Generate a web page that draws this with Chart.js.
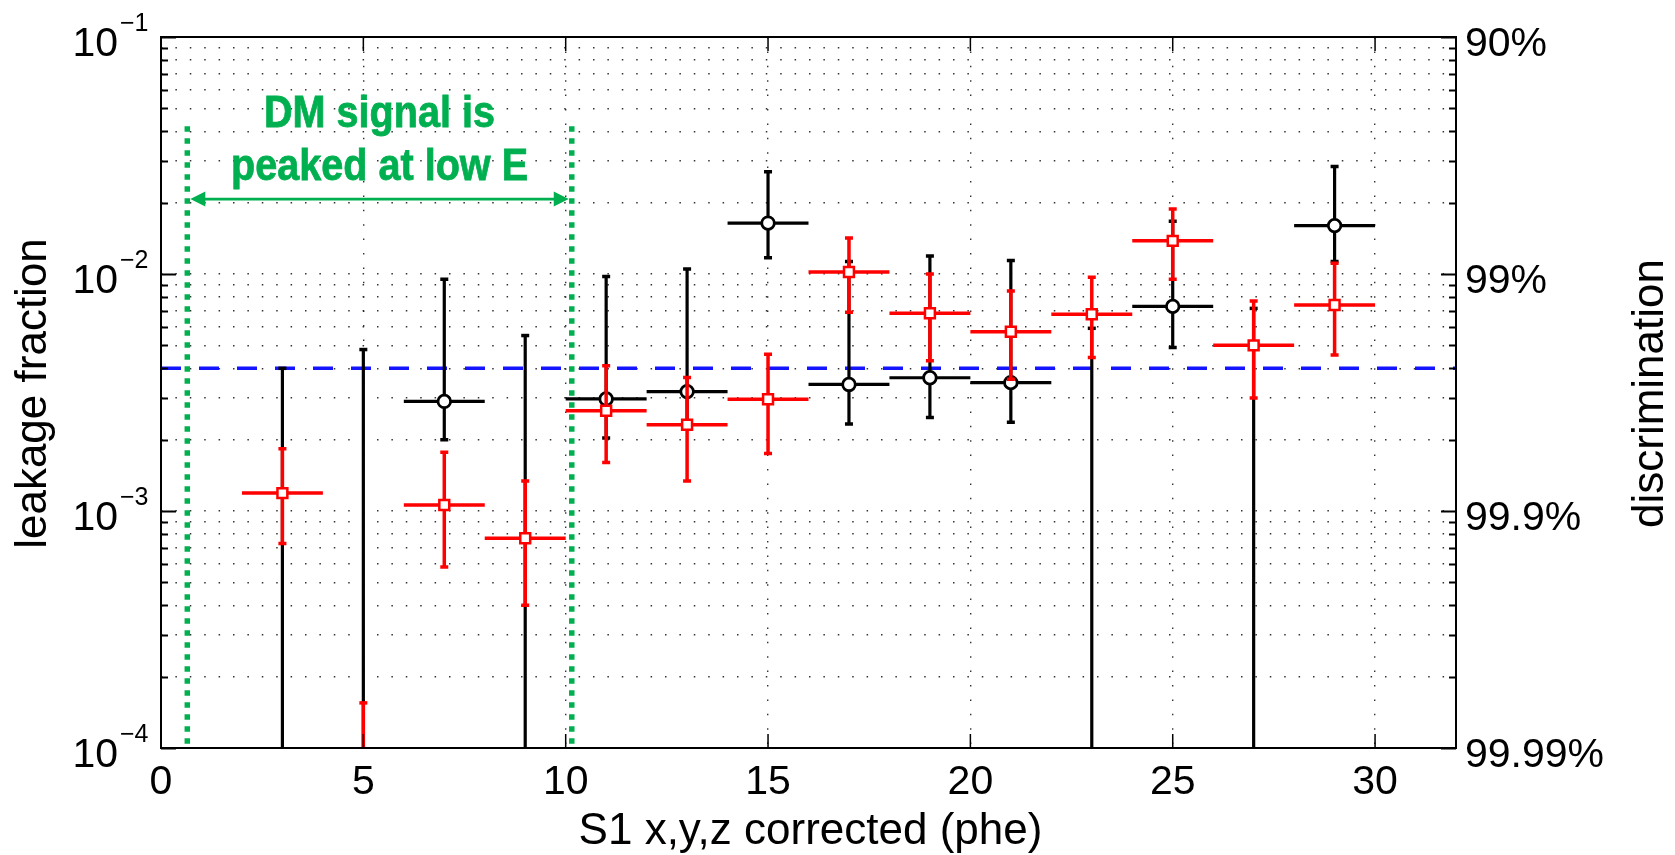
<!DOCTYPE html>
<html lang="en">
<head>
  <meta charset="UTF-8">
  <title>leakage fraction vs S1</title>
  <style>
    body { margin: 0; padding: 0; background: #fff; }
    .wrap { width: 1675px; height: 855px; position: relative; }
  </style>
</head>
<body>
  <div class="wrap"><canvas id="chart"></canvas></div>

  <script src="https://cdn.jsdelivr.net/npm/chart.js"></script>
  <script>
    // bin centres (phe) and half-width of every bin
    const binCenters = [3, 5, 7, 9, 11, 13, 15, 17, 19, 21, 23, 25, 27, 29];
    const binHalfWidth = 1;

    // black circles: value (null = no leakage seen), upper and lower bar ends (0 = off scale)
    const blackVal = [null, null, 2.9e-3, null, 2.97e-3, 3.19e-3, 1.64e-2, 3.42e-3, 3.65e-3, 3.48e-3, null, 7.3e-3, null, 1.6e-2];
    const blackHi  = [4.0e-3, 4.8e-3, 9.5e-3, 5.5e-3, 9.75e-3, 1.05e-2, 2.7e-2, 1.13e-2, 1.19e-2, 1.14e-2, 5.9e-3, 1.67e-2, 7.16e-3, 2.84e-2];
    const blackLo  = [0, 0, 2.0e-3, 0, 2.03e-3, 2.3e-3, 1.17e-2, 2.33e-3, 2.48e-3, 2.37e-3, 0, 4.9e-3, 0, 1.13e-2];

    // red squares
    const redVal = [1.19e-3, null, 1.06e-3, 7.67e-4, 2.65e-3, 2.31e-3, 2.96e-3, 1.02e-2, 6.83e-3, 5.71e-3, 6.76e-3, 1.38e-2, 5.0e-3, 7.4e-3];
    const redHi  = [1.83e-3, 1.55e-4, 1.77e-3, 1.34e-3, 4.1e-3, 3.66e-3, 4.58e-3, 1.42e-2, 1.0e-2, 8.48e-3, 9.7e-3, 1.88e-2, 7.7e-3, 1.11e-2];
    const redLo  = [7.3e-4, 0, 5.8e-4, 4.0e-4, 1.6e-3, 1.34e-3, 1.75e-3, 6.9e-3, 4.3e-3, 3.6e-3, 4.44e-3, 9.5e-3, 3.0e-3, 4.55e-3];

    // dashed reference level
    const cutLevel = 4e-3;

    // DM region annotation
    const dmRange = [0.65, 10.15];
    const dmTop = 0.042;
    const dmArrowY = 0.0207;
    const dmText = ['DM signal is', 'peaked at low E'];
    const dmTextY = [0.0419, 0.0249];

    // axes
    const xMin = 0, xMax = 32;
    const xTicks = [0, 5, 10, 15, 20, 25, 30];
    const yMajor = [1e-4, 1e-3, 1e-2, 1e-1];
    const discrimLabels = ['99.99%', '99.9%', '99%', '90%'];
    const xTitle = 'S1 x,y,z corrected (phe)';
    const yTitle = 'leakage fraction';
    const y2Title = 'discrimination';

    const FONT = '"Liberation Sans", Arial, Helvetica, sans-serif';
    const dotColor = 'rgba(30,30,30,0.9)';

    // minor ticks 2..9 inside each decade
    const yTicks = [];
    yMajor.forEach((m, i) => {
      yTicks.push(m);
      if (i < yMajor.length - 1) for (let k = 2; k <= 9; k++) yTicks.push(k * m);
    });

    const pts = (vals) => binCenters.map((c, i) => ({ x: c, y: vals[i] })).filter(p => p.y != null);

    // error bars drawn just before the markers of each dataset
    const errorBars = {
      id: 'errorBars',
      beforeDatasetDraw(chart, args) {
        const ds = chart.data.datasets[args.index];
        if (!ds.err) return;
        const { ctx, chartArea: a, scales: { x, y } } = chart;
        const e = ds.err;
        ctx.save();
        ctx.beginPath();
        ctx.rect(a.left, a.top, a.right - a.left, a.bottom - a.top);
        ctx.clip();
        ctx.strokeStyle = ds.borderColor;
        ctx.lineCap = 'butt';
        binCenters.forEach((c, i) => {
          const px = x.getPixelForValue(c);
          const top = y.getPixelForValue(e.hi[i]);
          const bot = e.lo[i] > 0 ? y.getPixelForValue(e.lo[i]) : a.bottom + 5;
          ctx.lineWidth = e.width;
          ctx.beginPath();
          ctx.moveTo(px, top); ctx.lineTo(px, bot);
          if (e.val[i] != null) {
            const py = y.getPixelForValue(e.val[i]);
            ctx.moveTo(x.getPixelForValue(c - binHalfWidth), py);
            ctx.lineTo(x.getPixelForValue(c + binHalfWidth), py);
          }
          ctx.stroke();
          // caps
          ctx.lineWidth = 3.5;
          ctx.beginPath();
          ctx.moveTo(px - 4, top); ctx.lineTo(px + 4, top);
          if (e.lo[i] > 0) { ctx.moveTo(px - 4, bot); ctx.lineTo(px + 4, bot); }
          ctx.stroke();
        });
        ctx.restore();
      }
    };

    // box, inside ticks, titles, tick labels, annotation
    const decorations = {
      id: 'decorations',
      afterDatasetsDraw(chart) {
        const { ctx, chartArea: a, scales: { x, y } } = chart;
        ctx.save();

        // frame
        ctx.strokeStyle = '#000';
        ctx.lineWidth = 2;
        ctx.strokeRect(a.left, a.top, a.right - a.left, a.bottom - a.top);

        // y ticks both sides
        ctx.lineWidth = 2;
        ctx.beginPath();
        yTicks.forEach(v => {
          const py = Math.round(y.getPixelForValue(v)) + 0.5;
          const len = yMajor.includes(v) ? 15 : 7;
          ctx.moveTo(a.left, py); ctx.lineTo(a.left + len, py);
          ctx.moveTo(a.right, py); ctx.lineTo(a.right - len, py);
        });
        ctx.stroke();

        // x ticks top and bottom
        ctx.lineWidth = 1.5;
        ctx.beginPath();
        xTicks.forEach(v => {
          const px = x.getPixelForValue(v);
          ctx.moveTo(px, a.bottom); ctx.lineTo(px, a.bottom - 14);
          ctx.moveTo(px, a.top); ctx.lineTo(px, a.top + 14);
        });
        ctx.stroke();

        // green arrow + text
        const gx1 = x.getPixelForValue(dmRange[0]);
        const gx2 = x.getPixelForValue(dmRange[1]);
        const gy = y.getPixelForValue(dmArrowY);
        ctx.strokeStyle = '#00b050';
        ctx.fillStyle = '#00b050';
        ctx.lineWidth = 2.8;
        ctx.beginPath();
        ctx.moveTo(gx1 + 10, gy); ctx.lineTo(gx2 - 10, gy);
        ctx.stroke();
        ctx.beginPath();
        ctx.moveTo(gx1 + 3, gy); ctx.lineTo(gx1 + 18, gy - 7.5); ctx.lineTo(gx1 + 18, gy + 7.5); ctx.closePath();
        ctx.moveTo(gx2 - 3, gy); ctx.lineTo(gx2 - 18, gy - 7.5); ctx.lineTo(gx2 - 18, gy + 7.5); ctx.closePath();
        ctx.fill();

        const cx = (gx1 + gx2) / 2;
        ctx.font = 'bold 45px ' + FONT;
        ctx.textAlign = 'center';
        ctx.textBaseline = 'alphabetic';
        ctx.lineWidth = 0.8;
        dmText.forEach((t, i) => {
          ctx.save();
          ctx.translate(cx, y.getPixelForValue(dmTextY[i]));
          ctx.scale(0.88, 1);
          ctx.fillText(t, 0, 0);
          ctx.strokeText(t, 0, 0);
          ctx.restore();
        });
        ctx.restore();
      },
      afterDraw(chart) {
        const { ctx, chartArea: a, scales: { y } } = chart;
        ctx.save();
        ctx.fillStyle = '#000';

        // left tick labels 10^n and right discrimination labels
        yMajor.forEach((v, i) => {
          const py = y.getPixelForValue(v);
          const n = Math.round(Math.log10(v));
          ctx.font = '41px ' + FONT;
          ctx.textAlign = 'right';
          ctx.textBaseline = 'alphabetic';
          ctx.fillText('10', a.left - 43, py + 19);
          ctx.textAlign = 'left';
          ctx.fillText(discrimLabels[i], a.right + 9, py + 18.5);
          ctx.font = '25px ' + FONT;
          ctx.fillText('\u2212' + Math.abs(n), a.left - 41, py - 6.5);
        });

        // axis titles
        ctx.font = '44px ' + FONT;
        ctx.textAlign = 'center';
        ctx.textBaseline = 'alphabetic';
        const midY = (a.top + a.bottom) / 2 + 1;
        ctx.fillText(xTitle, (a.left + a.right) / 2 + 2, a.bottom + 96);

        ctx.save();
        ctx.translate(a.left - 115, midY);
        ctx.rotate(-Math.PI / 2);
        ctx.fillText(yTitle, 0, 0);
        ctx.restore();

        ctx.save();
        ctx.translate(a.right + 207, midY);
        ctx.rotate(-Math.PI / 2);
        ctx.fillText(y2Title, 0, 0);
        ctx.restore();

        ctx.restore();
      }
    };

    const dotted = { color: dotColor, lineWidth: 1.4, drawTicks: false };

    new Chart(document.getElementById('chart'), {
      type: 'scatter',
      data: {
        datasets: [
          {
            label: 'red',
            data: pts(redVal),
            err: { val: redVal, hi: redHi, lo: redLo, width: 3.5 },
            pointStyle: 'rect',
            pointRadius: 7,
            pointBorderWidth: 2.5,
            borderColor: '#ff0000',
            backgroundColor: '#ffffff',
            showLine: false,
            order: 1
          },
          {
            label: 'black',
            data: pts(blackVal),
            err: { val: blackVal, hi: blackHi, lo: blackLo, width: 3.2 },
            pointStyle: 'circle',
            pointRadius: 6.3,
            pointBorderWidth: 2.8,
            borderColor: '#000000',
            backgroundColor: '#ffffff',
            showLine: false,
            order: 2
          },
          {
            label: 'cut',
            type: 'line',
            data: [{ x: xMin, y: cutLevel }, { x: xMax, y: cutLevel }],
            borderColor: '#1414ff',
            borderWidth: 3.5,
            borderDash: [20, 18],
            pointRadius: 0,
            order: 3
          },
          {
            label: 'dm-left',
            type: 'line',
            data: [{ x: dmRange[0], y: dmTop }, { x: dmRange[0], y: yMajor[0] }],
            borderColor: '#00b050',
            borderWidth: 5.5,
            borderDash: [5.5, 6.5],
            pointRadius: 0,
            order: 4
          },
          {
            label: 'dm-right',
            type: 'line',
            data: [{ x: dmRange[1], y: dmTop }, { x: dmRange[1], y: yMajor[0] }],
            borderColor: '#00b050',
            borderWidth: 5.5,
            borderDash: [5.5, 6.5],
            pointRadius: 0,
            order: 4
          }
        ]
      },
      options: {
        responsive: true,
        maintainAspectRatio: false,
        animation: false,
        layout: { padding: { top: 37, left: 0, right: 0, bottom: 0 } },
        plugins: { legend: { display: false }, tooltip: { enabled: false } },
        scales: {
          x: {
            type: 'linear',
            position: 'bottom',
            min: xMin,
            max: xMax,
            afterBuildTicks: s => { s.ticks = xTicks.map(v => ({ value: v })); },
            afterFit: s => { s.height = 107; },
            ticks: { font: { size: 41, family: FONT }, color: '#000', padding: 10, maxRotation: 0, autoSkip: false },
            grid: dotted,
            border: { display: false, dash: [1.5, 12.9] }
          },
          y: {
            type: 'logarithmic',
            position: 'left',
            min: yMajor[0],
            max: yMajor[yMajor.length - 1],
            afterBuildTicks: s => { s.ticks = yTicks.map(v => ({ value: v })); },
            afterFit: s => { s.width = 161; },
            ticks: { display: false },
            grid: dotted,
            border: { display: false, dash: [1.5, 12.9] }
          },
          y2: {
            type: 'logarithmic',
            position: 'right',
            min: yMajor[0],
            max: yMajor[yMajor.length - 1],
            afterBuildTicks: s => { s.ticks = yMajor.map(v => ({ value: v })); },
            afterFit: s => { s.width = 219; },
            ticks: { display: false },
            grid: { drawOnChartArea: false, drawTicks: false },
            border: { display: false }
          }
        }
      },
      plugins: [errorBars, decorations]
    });
  </script>
</body>
</html>
